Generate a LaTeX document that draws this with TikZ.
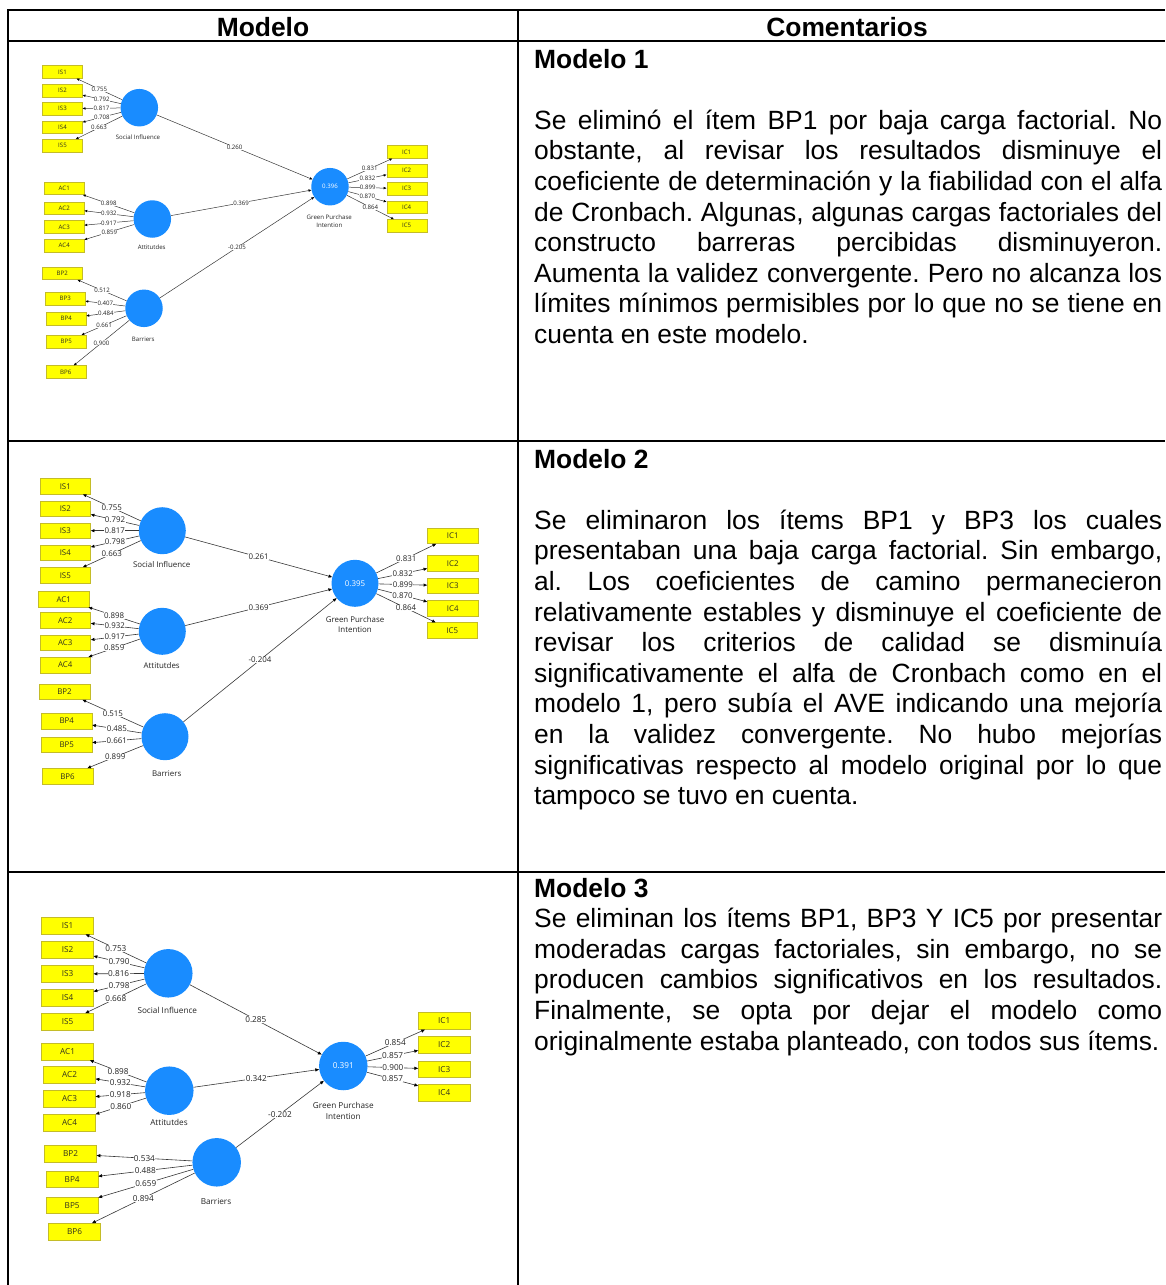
\documentclass[tikz,border=0pt]{standalone}
\usepackage{fontspec}
\setmainfont{Liberation Sans}
\newfontfamily\dgfont{Open Sans}
\usetikzlibrary{arrows.meta}

\definecolor{lvblue}{RGB}{25,140,255}
\definecolor{boxfill}{RGB}{255,255,0}
\definecolor{boxedge}{RGB}{196,188,40}
\definecolor{boxtext}{RGB}{50,50,30}
\definecolor{linegray}{RGB}{55,55,55}
\definecolor{labtext}{RGB}{35,35,35}

% diagram text sizes (small, medium, large model sketches)
\newcommand\fsA{\dgfont\fontsize{6.1}{8.3}\selectfont}
\newcommand\fsB{\dgfont\fontsize{7.9}{10}\selectfont}
\newcommand\fsC{\dgfont\fontsize{8.2}{10.3}\selectfont}
% table text
\newcommand\bodyfs{\fontsize{26.4}{30.6}\selectfont\frenchspacing\hyphenpenalty=10000\exhyphenpenalty=10000\tolerance=10000\hbadness=10000}

\begin{document}
\begin{tikzpicture}[x=1pt,y=-1pt,
  rule/.style={line width=2pt, black},
  ttl/.style={inner sep=0pt, font=\bodyfs\bfseries},
  body/.style={inner sep=0pt, text width=628pt, align=justify, font=\bodyfs},
  ind/.style={draw=boxedge, fill=boxfill, line width=0.4pt, inner sep=0pt, text=boxtext},
  indA/.style={ind, minimum width=40pt, minimum height=12.7pt, font=\fsA},
  indB/.style={ind, minimum width=50.7pt, minimum height=15.7pt, font=\fsB},
  indC/.style={ind, minimum width=51.7pt, minimum height=16.7pt, font=\fsC},
  lv/.style={circle, fill=lvblue, inner sep=0pt, text=white},
  lvA/.style={lv, minimum size=37.5pt, font=\fsA},
  lvB/.style={lv, minimum size=47pt, font=\fsB},
  lvC/.style={lv, minimum size=48.5pt, font=\fsC},
  capA/.style={inner sep=0pt, align=center, text=labtext, font=\fsA},
  capB/.style={inner sep=0pt, align=center, text=labtext, font=\fsB},
  capC/.style={inner sep=0pt, align=center, text=labtext, font=\fsC},
  loadA/.style={fill=white, inner sep=0.3pt, text=labtext, font=\fsA},
  loadB/.style={fill=white, inner sep=0.4pt, text=labtext, font=\fsB},
  loadC/.style={fill=white, inner sep=0.4pt, text=labtext, font=\fsC},
  linkA/.style={draw=linegray, line width=0.5pt, -{Triangle[length=2.8pt,width=2.3pt,color=black]}},
  linkB/.style={draw=linegray, line width=0.6pt, -{Triangle[length=3.6pt,width=3pt,color=black]}},
  linkC/.style={draw=linegray, line width=0.6pt, -{Triangle[length=3.8pt,width=3.1pt,color=black]}}
]
\useasboundingbox (0,0) rectangle (1165,1285);

% ---------- table rules ----------
\draw[rule] (8,10) -- (1165,10);
\draw[rule] (8,41) -- (1165,41);
\draw[rule] (8,441) -- (1165,441);
\draw[rule] (8,872) -- (1165,872);
\draw[rule] (8,9) -- (8,1285);
\draw[rule] (518,9) -- (518,1285);

% ---------- headers ----------
\node[ttl, anchor=base] (hmod) at (263,36) {Modelo};
\node[ttl, anchor=base] (hcom) at (847,36) {Comentarios};

% ---------- comments ----------
\node[ttl, anchor=base west] (t1) at (534,68) {Modelo 1};
\node[body, anchor=base west] (c1) at (534,129.2) {Se eliminó el ítem BP1 por baja carga factorial. No\linebreak
obstante, al revisar los resultados disminuye el\linebreak
coeficiente de determinación y la fiabilidad con el alfa\linebreak
de Cronbach. Algunas, algunas cargas factoriales del\linebreak
constructo barreras percibidas disminuyeron.\linebreak
Aumenta la validez convergente. Pero no alcanza los\linebreak
límites mínimos permisibles por lo que no se tiene en\linebreak
cuenta en este modelo.};

\node[ttl, anchor=base west] (t2) at (534,468) {Modelo 2};
\node[body, anchor=base west] (c2) at (534,529.2) {Se eliminaron los ítems BP1 y BP3 los cuales\linebreak
presentaban una baja carga factorial. Sin embargo,\linebreak
al. Los coeficientes de camino permanecieron\linebreak
relativamente estables y disminuye el coeficiente de\linebreak
revisar los criterios de calidad se disminuía\linebreak
significativamente el alfa de Cronbach como en el\linebreak
modelo 1, pero subía el AVE indicando una mejoría\linebreak
en la validez convergente. No hubo mejorías\linebreak
significativas respecto al modelo original por lo que\linebreak
tampoco se tuvo en cuenta.};

\node[ttl, anchor=base west] (t3) at (534,897) {Modelo 3};
\node[body, anchor=base west] (c3) at (534,927.6) {Se eliminan los ítems BP1, BP3 Y IC5 por presentar\linebreak
moderadas cargas factoriales, sin embargo, no se\linebreak
producen cambios significativos en los resultados.\linebreak
Finalmente, se opta por dejar el modelo como\linebreak
originalmente estaba planteado, con todos sus ítems.};

% ---------- model 1 ----------
\node[indA] (a-is1) at (62.5,72) {IS1};
\node[indA] (a-is2) at (62.5,90.7) {IS2};
\node[indA] (a-is3) at (62.5,108.7) {IS3};
\node[indA] (a-is4) at (62.5,127.3) {IS4};
\node[indA] (a-is5) at (62.5,145.7) {IS5};
\node[indA] (a-ac1) at (64.2,188.3) {AC1};
\node[indA] (a-ac2) at (64.2,208.3) {AC2};
\node[indA] (a-ac3) at (64.2,227) {AC3};
\node[indA] (a-ac4) at (64.2,245.8) {AC4};
\node[indA] (a-bp2) at (62.3,273.3) {BP2};
\node[indA] (a-bp3) at (65.3,298.7) {BP3};
\node[indA] (a-bp4) at (66.2,318.5) {BP4};
\node[indA] (a-bp5) at (66.2,341.5) {BP5};
\node[indA] (a-bp6) at (65.7,372) {BP6};
\node[indA] (a-ic1) at (406.7,152) {IC1};
\node[indA] (a-ic2) at (406.7,170.5) {IC2};
\node[indA] (a-ic3) at (406.7,188.7) {IC3};
\node[indA] (a-ic4) at (406.7,207.2) {IC4};
\node[indA] (a-ic5) at (406.7,225.8) {IC5};
\node[lvA] (a-si) at (139.3,107.7) {};
\node[lvA] (a-att) at (152.3,219) {};
\node[lvA] (a-bar) at (144,308.3) {};
\node[lvA] (a-gpi) at (330,186.7) {0.396};
\node[capA] (a-si-t) at (138,136.7) {Social Influence};
\node[capA] (a-att-t) at (151.7,247.7) {Attitutdes};
\node[capA] (a-bar-t) at (143.3,339.3) {Barriers};
\node[capA] (a-gpi-t) at (329.3,220.9) {Green Purchase\\Intention};
\foreach \b/\v in {is1/0.755,is2/0.792,is3/0.817,is4/0.708,is5/0.663}
  \draw[linkA] (a-si) -- node[loadA]{\v} (a-\b);
\foreach \b/\v in {ac1/0.898,ac2/0.932,ac3/0.917,ac4/0.859}
  \draw[linkA] (a-att) -- node[loadA]{\v} (a-\b);
\foreach \b/\v in {bp2/0.512,bp3/0.407,bp4/0.484,bp5/0.661,bp6/0.900}
  \draw[linkA] (a-bar) -- node[loadA]{\v} (a-\b);
\foreach \b/\v in {ic1/0.831,ic2/0.832,ic3/0.899,ic4/0.870,ic5/0.864}
  \draw[linkA] (a-gpi) -- node[loadA]{\v} (a-\b);
\draw[linkA] (a-si) -- node[loadA]{0.260} (a-gpi);
\draw[linkA] (a-att) -- node[loadA]{0.369} (a-gpi);
\draw[linkA] (a-bar) -- node[loadA]{-0.205} (a-gpi);

% ---------- model 2 ----------
\node[indB] (b-is1) at (65.3,486.2) {IS1};
\node[indB] (b-is2) at (65.3,508.7) {IS2};
\node[indB] (b-is3) at (65.3,530.7) {IS3};
\node[indB] (b-is4) at (65.3,552.8) {IS4};
\node[indB] (b-is5) at (65.3,575.3) {IS5};
\node[indB] (b-ac1) at (63.8,599.2) {AC1};
\node[indB] (b-ac2) at (65.3,620.5) {AC2};
\node[indB] (b-ac3) at (65.3,642.8) {AC3};
\node[indB] (b-ac4) at (65.3,665) {AC4};
\node[indB] (b-bp2) at (64.5,691.7) {BP2};
\node[indB] (b-bp4) at (66.7,721) {BP4};
\node[indB] (b-bp5) at (66.7,744.7) {BP5};
\node[indB] (b-bp6) at (67.5,776.2) {BP6};
\node[indB] (b-ic1) at (452.7,535.8) {IC1};
\node[indB] (b-ic2) at (452.7,563.3) {IC2};
\node[indB] (b-ic3) at (452.7,585.8) {IC3};
\node[indB] (b-ic4) at (452.7,608.3) {IC4};
\node[indB] (b-ic5) at (452.2,630.5) {IC5};
\node[lvB] (b-si) at (162.3,530.7) {};
\node[lvB] (b-att) at (162.3,631.3) {};
\node[lvB] (b-bar) at (165,736.7) {};
\node[lvB] (b-gpi) at (355,583.3) {0.395};
\node[capB] (b-si-t) at (161.7,564.3) {Social Influence};
\node[capB] (b-att-t) at (161.7,665.3) {Attitutdes};
\node[capB] (b-bar-t) at (166.7,773.3) {Barriers};
\node[capB] (b-gpi-t) at (355,624.3) {Green Purchase\\Intention};
\foreach \b/\v in {is1/0.755,is2/0.792,is3/0.817,is4/0.798,is5/0.663}
  \draw[linkB] (b-si) -- node[loadB]{\v} (b-\b);
\foreach \b/\v in {ac1/0.898,ac2/0.932,ac3/0.917,ac4/0.859}
  \draw[linkB] (b-att) -- node[loadB]{\v} (b-\b);
\foreach \b/\v in {bp2/0.515,bp4/0.485,bp5/0.661,bp6/0.899}
  \draw[linkB] (b-bar) -- node[loadB]{\v} (b-\b);
\foreach \b/\v in {ic1/0.831,ic2/0.832,ic3/0.899,ic4/0.870,ic5/0.864}
  \draw[linkB] (b-gpi) -- node[loadB]{\v} (b-\b);
\draw[linkB] (b-si) -- node[loadB]{0.261} (b-gpi);
\draw[linkB] (b-att) -- node[loadB]{0.369} (b-gpi);
\draw[linkB] (b-bar) -- node[loadB]{-0.204} (b-gpi);

% ---------- model 3 ----------
\node[indC] (c-is1) at (67.5,925.8) {IS1};
\node[indC] (c-is2) at (67.5,950) {IS2};
\node[indC] (c-is3) at (67.5,974) {IS3};
\node[indC] (c-is4) at (67.5,997.8) {IS4};
\node[indC] (c-is5) at (67.5,1021.7) {IS5};
\node[indC] (c-ac1) at (67.5,1051.7) {AC1};
\node[indC] (c-ac2) at (69.5,1074.7) {AC2};
\node[indC] (c-ac3) at (69.5,1098.7) {AC3};
\node[indC] (c-ac4) at (69.5,1122.5) {AC4};
\node[indC] (c-bp2) at (70.5,1154) {BP2};
\node[indC] (c-bp4) at (72.2,1179.3) {BP4};
\node[indC] (c-bp5) at (72.2,1205.3) {BP5};
\node[indC] (c-bp6) at (74.5,1231.7) {BP6};
\node[indC] (c-ic1) at (444.2,1021) {IC1};
\node[indC] (c-ic2) at (444.2,1045) {IC2};
\node[indC] (c-ic3) at (444.2,1069.2) {IC3};
\node[indC] (c-ic4) at (444.2,1092.7) {IC4};
\node[lvC] (c-si) at (168.3,973.3) {};
\node[lvC] (c-att) at (169.3,1090.7) {};
\node[lvC] (c-bar) at (216.7,1162.3) {};
\node[lvC] (c-gpi) at (343.3,1066) {0.391};
\node[capC] (c-si-t) at (167.3,1010) {Social Influence};
\node[capC] (c-att-t) at (169,1122.7) {Attitutdes};
\node[capC] (c-bar-t) at (216,1201.7) {Barriers};
\node[capC] (c-gpi-t) at (343.3,1110.9) {Green Purchase\\Intention};
\foreach \b/\v in {is1/0.753,is2/0.790,is3/0.816,is4/0.798,is5/0.668}
  \draw[linkC] (c-si) -- node[loadC]{\v} (c-\b);
\foreach \b/\v in {ac1/0.898,ac2/0.932,ac3/0.918,ac4/0.860}
  \draw[linkC] (c-att) -- node[loadC]{\v} (c-\b);
\foreach \b/\v in {bp2/0.534,bp4/0.488,bp5/0.659,bp6/0.894}
  \draw[linkC] (c-bar) -- node[loadC]{\v} (c-\b);
\foreach \b/\v in {ic1/0.854,ic2/0.857,ic3/0.900,ic4/0.857}
  \draw[linkC] (c-gpi) -- node[loadC]{\v} (c-\b);
\draw[linkC] (c-si) -- node[loadC]{0.285} (c-gpi);
\draw[linkC] (c-att) -- node[loadC]{0.342} (c-gpi);
\draw[linkC] (c-bar) -- node[loadC]{-0.202} (c-gpi);
\end{tikzpicture}
\end{document}
